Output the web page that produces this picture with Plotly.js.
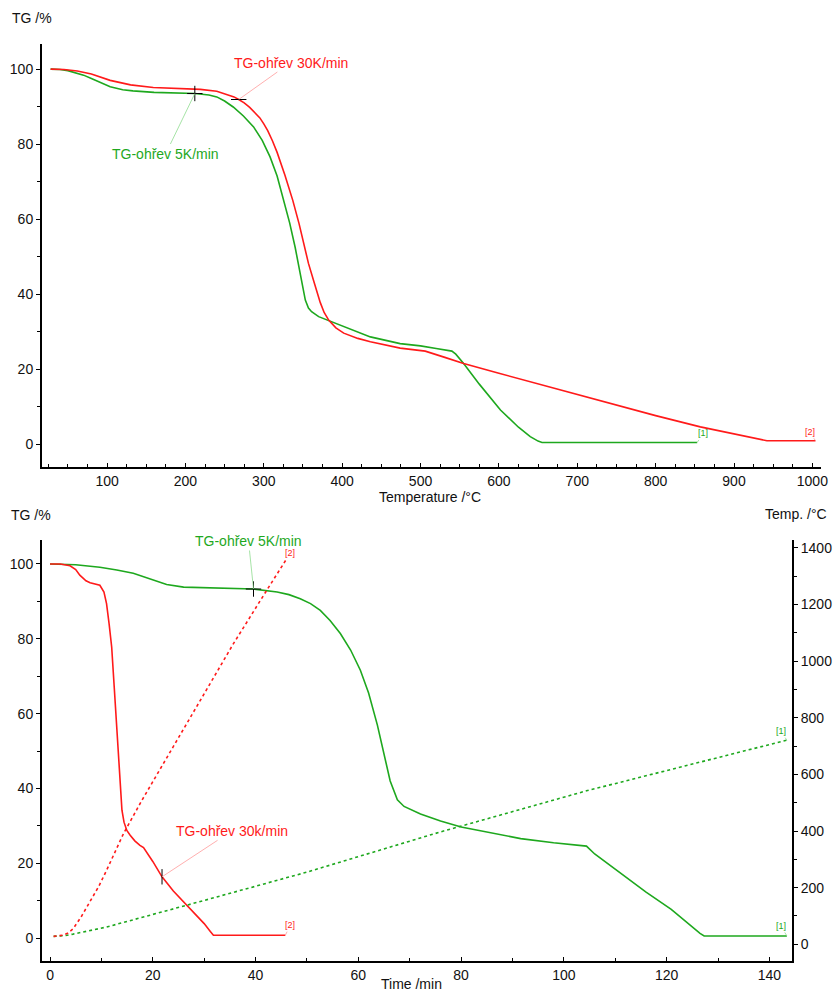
<!DOCTYPE html>
<html>
<head>
<meta charset="utf-8">
<script src="https://cdn.plot.ly/plotly-3.0.1.min.js"></script>
<style>
  html, body { margin: 0; padding: 0; background: #fff; }
  #chart { width: 839px; height: 993px; }
</style>
</head>
<body>
<div id="chart"></div>
<script>
// --- TG vs temperature (top) ---
const tempGreen = [28, 40, 50, 60, 70, 80, 90, 104, 120, 133, 160, 212, 230, 240, 250, 261, 274, 287, 298, 308, 317, 325, 333, 340, 345, 349, 353, 357, 361, 370, 383, 400, 436, 474, 500, 520, 535, 540, 545, 550, 555, 575, 602, 625, 640, 650, 655, 700, 853];
const tgGreenT  = [100, 99.9, 99.6, 99.1, 98.4, 97.5, 96.6, 95.3, 94.5, 94.2, 93.8, 93.5, 93.1, 92.6, 91.5, 89.9, 87.5, 84.6, 81, 76.6, 71.5, 65.5, 59, 52.5, 47, 42, 38.4, 36.3, 35.3, 34, 32.9, 31.5, 28.6, 26.8, 26.2, 25.5, 25, 24.8, 24, 22.8, 21.5, 16, 9.1, 4.5, 2, 0.8, 0.45, 0.45, 0.45];

const tempRed = [28, 45, 62, 80, 104, 130, 159, 190, 219, 240, 253, 262, 268, 275, 282, 289, 295, 300, 305, 311, 317, 327, 337, 345, 351, 357, 364, 372, 377, 383, 392, 402, 420, 436, 474, 506, 530, 555, 600, 695, 800, 857, 900, 930, 942, 1004];
const tgRedT  = [100, 99.9, 99.5, 98.7, 97, 95.8, 95.1, 94.8, 94.6, 94.1, 93.2, 92.6, 91.9, 91.0, 89.8, 88.4, 87.0, 85.4, 83.6, 80.9, 77.8, 71.7, 65, 58.8, 53.6, 48.2, 43.3, 37.8, 35.1, 33, 31, 29.6, 28.2, 27.3, 25.6, 24.8, 23.2, 21.5, 18.9, 13.5, 7.6, 4.6, 2.7, 1.3, 0.9, 0.9];

// --- TG and temperature vs time (bottom) ---
const timeGreen = [0, 5, 9.7, 13, 16.2, 20, 22.7, 26, 30, 39.6, 44.2, 46.5, 48.7, 50.7, 52.6, 54.5, 56.5, 58.5, 60.4, 62, 63.7, 65, 66.2, 67.6, 68.9, 72.1, 76, 80, 86, 91.6, 98, 104.4, 106, 111, 116, 120.9, 124.5, 126.5, 127.3, 143.4];
const tgGreen   = [100, 99.8, 99.1, 98.4, 97.5, 95.8, 94.5, 93.8, 93.6, 93.3, 92.5, 91.8, 90.7, 89.4, 87.6, 84.9, 81.4, 77, 71.6, 65.5, 57, 49, 42, 37, 35.2, 33.2, 31.3, 29.7, 28, 26.6, 25.5, 24.6, 22.5, 17.3, 12.3, 7.7, 3.5, 1.3, 0.6, 0.6];

const timeRed = [0, 2, 3.9, 5, 5.8, 7, 7.8, 9.7, 10.5, 11, 11.5, 12, 12.5, 13, 13.3, 13.6, 14, 14.4, 14.95, 15.6, 16.5, 17.5, 18.2, 20, 21.8, 24, 26.6, 30, 31.2, 31.8, 45.8];
const tgRed   = [100, 100, 99.5, 98.5, 97, 95.5, 95, 94.3, 92.5, 89.4, 84, 77.8, 67, 56.4, 50, 42, 34.2, 31, 28.8, 27.5, 26, 24.8, 24.2, 20.5, 16.4, 12.6, 8.9, 3.9, 1.8, 0.8, 0.8];

const timeTempGreen = [0.7, 2, 3, 4.5, 6, 8, 11, 26.6, 50, 76, 104.4, 143.4];
const furnGreen     = [28, 29, 31, 36, 42, 50, 61, 138, 255, 397, 542, 721];

const timeTempRed = [0.7, 2.5, 3.5, 4.5, 6, 7.8, 9.5, 11, 14.3, 17.9, 26, 35.7, 42.2, 46];
const furnRed     = [28, 32, 40, 55, 95, 150, 205, 261, 391, 509, 762, 1062, 1251, 1360];

// points marked on curves
const markTop = { x: [212, 268], y: [93.5, 91.9], sym: ['cross-thin', 'line-ew'] };
const markBot = { x: [39.6, 21.8], y: [93.3, 16.4], sym: ['cross-thin', 'line-ns'] };

const RED = '#ff1a1a';
const GREEN = '#1ea81e';
const FONT = 'Liberation Sans, Arial, sans-serif';

// plot area in page pixels
const W = 839, H = 993;
const L = 42, R = 18, T = 44, B = 32;
const pw = W - L - R, ph = H - T - B;
const px = (x) => (x - L) / pw;
const py = (y) => (H - B - y) / ph;

const line = (x, y, color, axes, dash) => ({
    x: x, y: y, type: 'scatter', mode: 'lines',
    line: { color: color, width: 1.6, dash: dash || 'solid' },
    xaxis: axes[0], yaxis: axes[1], hoverinfo: 'skip', showlegend: false
});
const marks = (m, axes) => ({
    x: m.x, y: m.y, type: 'scatter', mode: 'markers',
    marker: { symbol: m.sym, size: 11, color: '#000', line: { color: '#000', width: 1 } },
    xaxis: axes[0], yaxis: axes[1], hoverinfo: 'skip', showlegend: false
});

const data = [
    line(tempGreen, tgGreenT, GREEN, ['x', 'y']),
    line(tempRed, tgRedT, RED, ['x', 'y']),
    line(timeTempGreen, furnGreen, GREEN, ['x2', 'y3'], 'dot'),
    line(timeTempRed, furnRed, RED, ['x2', 'y3'], 'dot'),
    line(timeGreen, tgGreen, GREEN, ['x2', 'y2']),
    line(timeRed, tgRed, RED, ['x2', 'y2']),
    marks(markTop, ['x', 'y']),
    marks(markBot, ['x2', 'y2'])
];

const axisBase = {
    showgrid: false, zeroline: false, showline: true, linecolor: '#000', linewidth: 2,
    tickfont: { family: FONT, size: 14, color: '#111' }, tickcolor: '#000', ticklen: 4, tickwidth: 1
};
const xaxisBase = Object.assign({}, axisBase, { ticks: 'inside' });
const yaxisBase = Object.assign({}, axisBase, { ticks: 'outside' });

const label = (text, x, y, color, ax, ay, xref, yref, size, lineColor) => ({
    text: text, x: x, y: y, xref: xref, yref: yref, ax: ax, ay: ay,
    showarrow: true, arrowhead: 0, arrowwidth: 0.8, arrowcolor: lineColor,
    font: { family: FONT, size: size, color: color }
});
const title = (text, x, y, xanchor) => ({
    text: text, x: px(x), y: py(y), xref: 'paper', yref: 'paper', xanchor: xanchor, yanchor: 'middle',
    showarrow: false, font: { family: FONT, size: 14, color: '#111' }
});

const layout = {
    width: W, height: H,
    margin: { l: L, r: R, t: T, b: B },
    paper_bgcolor: '#fff', plot_bgcolor: '#fff',
    showlegend: false,
    xaxis: Object.assign({}, xaxisBase, {
        domain: [0, 1], anchor: 'y', range: [17, 1011], tick0: 0, dtick: 100,
        minor: { dtick: 25, ticks: 'inside', ticklen: 3, tickcolor: '#000' }
    }),
    yaxis: Object.assign({}, yaxisBase, {
        domain: [py(467), 1], anchor: 'x', range: [-6.1, 106.7], tick0: 0, dtick: 20,
        minor: { dtick: 10, ticks: 'outside', ticklen: 3, tickcolor: '#000' }
    }),
    xaxis2: Object.assign({}, xaxisBase, {
        domain: [0, px(792)], anchor: 'y2', range: [-1.56, 144.4], tick0: 0, dtick: 20,
        minor: { dtick: 10, ticks: 'inside', ticklen: 3, tickcolor: '#000' }
    }),
    yaxis2: Object.assign({}, yaxisBase, {
        domain: [0, py(540)], anchor: 'x2', range: [-6.1, 106.4], tick0: 0, dtick: 20,
        minor: { dtick: 10, ticks: 'outside', ticklen: 3, tickcolor: '#000' }
    }),
    yaxis3: Object.assign({}, yaxisBase, {
        overlaying: 'y2', side: 'right', anchor: 'x2', range: [-59, 1428], tick0: 0, dtick: 200,
        minor: { dtick: 100, ticks: 'outside', ticklen: 3, tickcolor: '#000' }
    }),
    annotations: [
        title('TG /%', 10, 18, 'left'),
        title('Temperature /°C', 430, 497, 'center'),
        title('TG /%', 9, 515, 'left'),
        title('Temp. /°C', 829, 514, 'right'),
        title('Time /min', 411, 984, 'center'),
        label('TG-ohřev 30K/min', 268, 91.9, RED, 52, -37, 'x', 'y', 14, '#ff9a9a'),
        label('TG-ohřev 5K/min', 212, 93.5, GREEN, -29, 60, 'x', 'y', 14, '#8fdc8f'),
        label('[1]', 853, 0.45, GREEN, 6, -9, 'x', 'y', 9, '#8fdc8f'),
        label('[2]', 1004, 0.9, RED, -6, -9, 'x', 'y', 9, '#ff9a9a'),
        label('TG-ohřev 5K/min', 39.6, 93.3, GREEN, -5, -48, 'x2', 'y2', 14, '#8fdc8f'),
        label('TG-ohřev 30k/min', 21.8, 16.4, RED, 70, -46, 'x2', 'y2', 14, '#ff9a9a'),
        label('[2]', 45.8, 0.8, RED, 5, -10, 'x2', 'y2', 9, '#ff9a9a'),
        label('[1]', 143.4, 0.6, GREEN, -6, -10, 'x2', 'y2', 9, '#8fdc8f'),
        label('[2]', 46, 1360, RED, 4, -6, 'x2', 'y3', 9, '#ff9a9a'),
        label('[1]', 143.4, 721, GREEN, -6, -9, 'x2', 'y3', 9, '#8fdc8f')
    ]
};

Plotly.newPlot('chart', data, layout, { displayModeBar: false, staticPlot: true });
</script>
</body>
</html>
